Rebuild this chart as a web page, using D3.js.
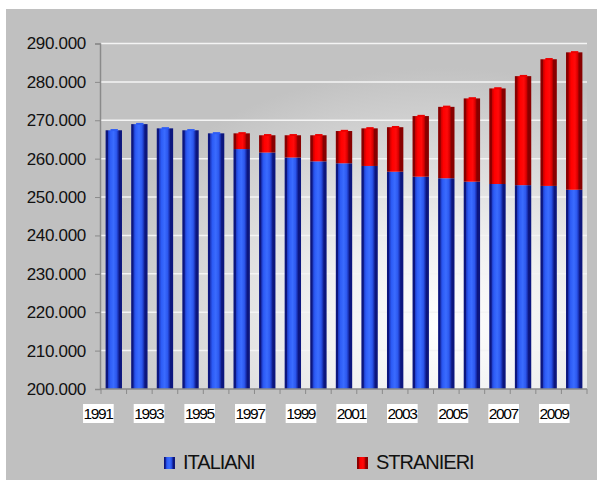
<!DOCTYPE html>
<html>
<head>
<meta charset="utf-8">
<script src="https://cdn.jsdelivr.net/npm/d3@7"></script>
<style>
  body { margin: 0; background: #fff; }
  svg { display: block; font-family: "Liberation Sans", Arial, sans-serif; }
</style>
</head>
<body>
<div id="chart"></div>
<script>
// Data
const years = d3.range(1991, 2010);
const italiani = [267400, 269000, 267900, 267400, 266600, 262500, 261600, 260300, 259300, 258800,
                  258100, 256600, 255300, 254900, 254000, 253400, 253100, 252900, 251900];
const stranieri = [0, 0, 0, 0, 0, 4100, 4500, 5800, 6800, 8400,
                   9800, 11600, 15800, 18600, 21700, 24900, 28400, 33000, 35800];
const yTicks = [200000, 210000, 220000, 230000, 240000, 250000, 260000, 270000, 280000, 290000];
const labelYears = years.filter((d, i) => i % 2 === 0);
const seriesNames = ["ITALIANI", "STRANIERI"];

const W = 597, H = 480;
const plot = { left: 101, right: 587, top: 43.5, bottom: 389 };

const svg = d3.select("#chart").append("svg")
  .attr("width", W)
  .attr("height", H);

const defs = svg.append("defs");

// plot background glow
const rg = defs.append("radialGradient")
  .attr("id", "bg")
  .attr("cx", "0.7").attr("cy", "0.82").attr("r", "0.75");
rg.append("stop").attr("offset", "0%").attr("stop-color", "#ffffff");
rg.append("stop").attr("offset", "35%").attr("stop-color", "#f0f0f0");
rg.append("stop").attr("offset", "100%").attr("stop-color", "#c2c2c2");

// cylinder shading for the bars
function barGradient(id, stops) {
  const g = defs.append("linearGradient").attr("id", id)
    .attr("x1", "0").attr("x2", "1").attr("y1", "0").attr("y2", "0");
  stops.forEach(s => g.append("stop").attr("offset", s[0]).attr("stop-color", s[1]));
}
barGradient("blue", [["0%", "#0c167e"], ["12%", "#0c167e"], ["16%", "#1e3cc8"], ["28%", "#2d5cf6"],
  ["48%", "#3a6cff"], ["66%", "#2c58ee"], ["76%", "#1b34b8"], ["84%", "#0c167e"], ["100%", "#0c167e"]]);
barGradient("red", [["0%", "#880000"], ["13%", "#880000"], ["18%", "#cc0000"], ["32%", "#ff0000"],
  ["55%", "#ff0a0a"], ["70%", "#d80000"], ["80%", "#880000"], ["100%", "#880000"]]);

// outer gray panel
svg.append("rect")
  .attr("x", 6).attr("y", 9)
  .attr("width", W - 6).attr("height", H - 9)
  .attr("fill", "#c0c0c0");

svg.append("rect")
  .attr("x", plot.left).attr("y", plot.top)
  .attr("width", plot.right - plot.left).attr("height", plot.bottom - plot.top)
  .attr("fill", "url(#bg)");

// Scales
const x = d3.scaleBand()
  .domain(years)
  .range([plot.left, plot.right])
  .paddingInner(0.36)
  .paddingOuter(0.18);

const y = d3.scaleLinear()
  .domain([200000, 290000])
  .range([plot.bottom, plot.top]);

const it = d3.formatLocale({ decimal: ",", thousands: ".", grouping: [3], currency: ["€", ""] });
const fmt = it.format(",.0f");

// gridlines
svg.append("g")
  .selectAll("line")
  .data(yTicks.slice(1))
  .join("line")
  .attr("x1", plot.left).attr("x2", plot.right)
  .attr("y1", d => y(d)).attr("y2", d => y(d))
  .attr("stroke", "#f4f4f4")
  .attr("stroke-width", 1.5);

// y axis
const yAxis = svg.append("g")
  .attr("transform", `translate(${plot.left - 1},0)`)
  .call(d3.axisLeft(y).tickValues(yTicks).tickFormat(fmt).tickSize(5).tickPadding(9));
yAxis.select(".domain").attr("stroke", "#8a8a8a").attr("stroke-width", 1.5);
yAxis.selectAll(".tick line").attr("stroke", "#8a8a8a");
yAxis.selectAll(".tick text")
  .attr("fill", "#111")
  .style("font-size", "17px")
  .style("letter-spacing", "-0.3px");

// stacked bars
const stackData = years.map((yr, i) => ({ year: yr, ITALIANI: italiani[i], STRANIERI: stranieri[i] }));
const stacked = d3.stack().keys(seriesNames)(stackData);
const fills = { ITALIANI: "url(#blue)", STRANIERI: "url(#red)" };

svg.append("g")
  .selectAll("g")
  .data(stacked)
  .join("g")
  .attr("fill", d => fills[d.key])
  .selectAll("rect")
  .data(d => d.filter(p => p[1] - p[0] > 0).map(p => ({ p, base: d.key === "ITALIANI" })))
  .join("rect")
  .attr("x", d => x(d.p.data.year))
  .attr("width", x.bandwidth())
  .attr("y", d => y(d.p[1]))
  .attr("height", d => (d.base ? y(200000) : y(d.p[0])) - y(d.p[1]));

// small cylinder caps on top of each column
svg.append("g")
  .selectAll("rect")
  .data(stackData)
  .join("rect")
  .attr("x", d => x(d.year) + x.bandwidth() * 0.3)
  .attr("width", x.bandwidth() * 0.45)
  .attr("y", d => y(d.ITALIANI + d.STRANIERI) - 1.2)
  .attr("height", 2)
  .attr("fill", d => d.STRANIERI > 0 ? "#ee0000" : "#2d5cf6");

// x axis
const xAxis = svg.append("g")
  .attr("transform", `translate(0,${plot.bottom})`);
xAxis.append("line")
  .attr("x1", plot.left).attr("x2", plot.right)
  .attr("stroke", "#8a8a8a").attr("stroke-width", 1.5);
xAxis.selectAll(".tk")
  .data(years.concat([null]))
  .join("line")
  .attr("class", "tk")
  .attr("x1", d => d === null ? plot.right : x(d) - x.step() * x.paddingInner() / 2)
  .attr("x2", d => d === null ? plot.right : x(d) - x.step() * x.paddingInner() / 2)
  .attr("y1", 0).attr("y2", 5)
  .attr("stroke", "#8a8a8a");

// year labels sit at the left boundary of every other category
const lbl = xAxis.selectAll(".lbl")
  .data(labelYears)
  .join("g")
  .attr("class", "lbl")
  .attr("transform", (d, i) => `translate(${x(d) - x.step() * x.paddingInner() / 2 - 3 - i * 0.5},24.5)`);
lbl.append("text")
  .attr("text-anchor", "middle")
  .attr("dy", "0.36em")
  .attr("fill", "#000")
  .style("font-size", "15.5px")
  .style("letter-spacing", "-1.4px")
  .text(d => d);
lbl.insert("rect", "text")
  .each(function () {
    const b = this.parentNode.querySelector("text").getBBox();
    d3.select(this)
      .attr("x", b.x - 0.5).attr("y", -9.5)
      .attr("width", b.width + 1).attr("height", 19)
      .attr("fill", "#fff");
  });

// legend
const legend = svg.append("g")
  .selectAll("g")
  .data(seriesNames)
  .join("g")
  .attr("transform", (d, i) => `translate(${164 + i * 193},457)`);
legend.append("rect")
  .attr("width", 11).attr("height", 12)
  .attr("fill", d => fills[d]);
legend.append("text")
  .attr("x", 19).attr("y", 11.5)
  .attr("fill", "#111")
  .style("font-size", "20px")
  .style("letter-spacing", "-1px")
  .text(d => d);
</script>
</body>
</html>
